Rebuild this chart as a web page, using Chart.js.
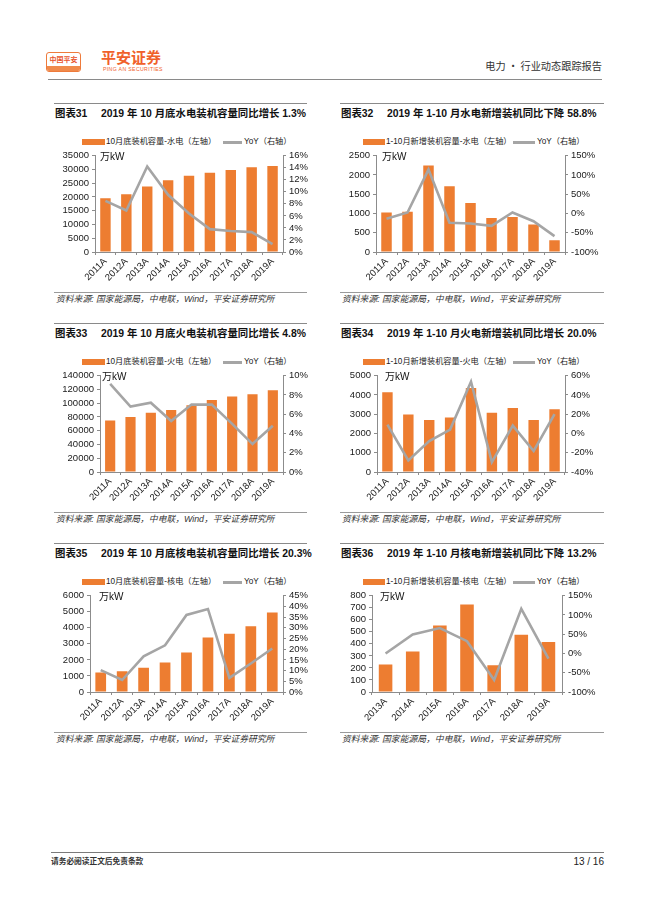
<!DOCTYPE html>
<html>
<head>
<meta charset="utf-8">
<script src="https://cdn.jsdelivr.net/npm/chart.js@4.4.1/dist/chart.umd.min.js"></script>
<style>
  body { margin: 0; width: 650px; height: 919px; position: relative; background: #fff; overflow: hidden;
         font-family: "Liberation Sans", "Noto Sans CJK SC", sans-serif; color: #222; }
  .abs { position: absolute; }
  .hline { position: absolute; height: 0; }
  .title { position: absolute; font-weight: bold; font-size: 10.4px; line-height: 13px; white-space: nowrap; color: #111; }
  .leg { position: absolute; font-size: 8.2px; line-height: 10px; white-space: nowrap; color: #222; }
  .src { position: absolute; font-size: 8.8px; font-style: italic; line-height: 11px; white-space: nowrap; color: #333; }
  .unit { position: absolute; font-size: 10px; line-height: 11px; white-space: nowrap; color: #111; }
  .box { position: absolute; }
</style>
</head>
<body>

<!-- header -->
<div class="abs" style="left:46px;top:52px;width:35px;height:20px;border:1px solid #ee7b3c;border-radius:3px;box-sizing:border-box;overflow:hidden;background:#fff;">
  <div style="color:#e8542b;font-weight:bold;font-size:7px;text-align:center;line-height:11px;margin-top:1px;font-family:'Noto Sans CJK SC';">中国平安</div>
  <div style="position:absolute;left:0;right:0;bottom:0;height:5px;background:#f08a4b;"></div>
</div>
<div class="abs" style="left:101px;top:48px;font-size:15px;line-height:18px;font-weight:bold;color:#f0602a;font-family:'Noto Sans CJK SC';">平安证券</div>
<div class="abs" style="left:103px;top:66px;font-size:5.2px;line-height:6px;color:#f0602a;letter-spacing:0.35px;white-space:nowrap;">PING AN SECURITIES</div>
<div class="abs" style="right:48px;top:60px;font-size:10.2px;line-height:12px;color:#333;white-space:nowrap;font-family:'Noto Sans CJK SC';">电力 · 行业动态跟踪报告</div>
<div class="hline" style="left:48px;width:554px;top:79px;border-top:1.3px solid #8a8a8a;"></div>

<!-- footer -->
<div class="hline" style="left:51px;width:553px;top:852px;border-top:1.3px solid #7a7a7a;"></div>
<div class="abs" style="left:51px;top:857px;font-size:7.7px;line-height:10px;color:#333;font-weight:bold;white-space:nowrap;">请务必阅读正文后免责条款</div>
<div class="abs" style="right:46px;top:856px;font-size:10px;line-height:12px;color:#222;white-space:nowrap;">13 / 16</div>

<div id="panels"></div>

<script>
// categories
const years9 = ["2011A", "2012A", "2013A", "2014A", "2015A", "2016A", "2017A", "2018A", "2019A"];
const years7 = ["2013A", "2014A", "2015A", "2016A", "2017A", "2018A", "2019A"];

// 10月底装机容量 (万kW) and YoY (%)
const hydroCap = [19500, 20950, 23800, 26100, 27700, 28800, 29800, 30800, 31300];
const hydroCapYoY = [8.5, 6.9, 14.2, 9.5, 6.4, 3.8, 3.5, 3.3, 1.3];
const thermalCap = [75000, 79800, 86000, 90300, 97000, 104600, 109900, 113200, 119000];
const thermalCapYoY = [9.15, 6.8, 7.2, 5.3, 7.0, 7.0, 5.0, 2.9, 4.8];
const nuclearCap = [1216, 1299, 1505, 1835, 2454, 3402, 3629, 4103, 4948];
const nuclearCapYoY = [10.2, 5.6, 16.7, 21.8, 36.0, 38.8, 6.6, 13.3, 20.3];

// 1-10月新增装机容量 (万kW) and YoY (%)
const hydroNew = [1027, 1044, 2248, 1709, 1271, 884, 909, 715, 303];
const hydroNewYoY = [-13.5, 2.5, 114, -24, -26, -32, 2.5, -20, -58.8];
const thermalNew = [4144, 2979, 2705, 2825, 4366, 3082, 3322, 2705, 3253];
const thermalNewYoY = [9.2, -28, -7.9, 4.1, 53.8, -29.8, 8.2, -18.2, 20.0];
const nuclearNew = [228, 336, 553, 727, 223, 475, 416];
const nuclearNewYoY = [0, 49.5, 66, 32, -69, 116, -13.2];

// axis ranges [min, max, step]
const ticks31 = [[0, 35000, 5000], [0, 16, 2]];
const ticks32 = [[0, 2500, 500], [-100, 150, 50]];
const ticks33 = [[0, 140000, 20000], [0, 10, 2]];
const ticks34 = [[0, 5000, 1000], [-40, 60, 20]];
const ticks35 = [[0, 6000, 1000], [0, 45, 5]];
const ticks36 = [[0, 800, 100], [-100, 150, 50]];

const BAR = "#ED7D31";
const LINE = "#A5A5A5";
const AXIS = "#8c8c8c";
const SOURCE = "资料来源: 国家能源局，中电联，Wind，平安证券研究所";

const charts = [
  { no: "图表31", title: "2019 年 10 月底水电装机容量同比增长 1.3%", legend: "10月底装机容量-水电（左轴）",
    labels: years9, bars: hydroCap, yoy: hydroCapYoY, ticks: ticks31, col: 0, row: 0, pl: 95, pr: 283, ux: 5 },
  { no: "图表32", title: "2019 年 1-10 月水电新增装机同比下降 58.8%", legend: "1-10月新增装机容量-水电（左轴）",
    labels: years9, bars: hydroNew, yoy: hydroNewYoY, ticks: ticks32, col: 1, row: 0, pl: 376, pr: 565, ux: 6 },
  { no: "图表33", title: "2019 年 10 月底火电装机容量同比增长 4.8%", legend: "10月底装机容量-火电（左轴）",
    labels: years9, bars: thermalCap, yoy: thermalCapYoY, ticks: ticks33, col: 0, row: 1, pl: 100, pr: 283, ux: 2 },
  { no: "图表34", title: "2019 年 1-10 月火电新增装机同比增长 20.0%", legend: "1-10月新增装机容量-火电（左轴）",
    labels: years9, bars: thermalNew, yoy: thermalNewYoY, ticks: ticks34, col: 1, row: 1, pl: 377, pr: 565, ux: 8 },
  { no: "图表35", title: "2019 年 10 月底核电装机容量同比增长 20.3%", legend: "10月底装机容量-核电（左轴）",
    labels: years9, bars: nuclearCap, yoy: nuclearCapYoY, ticks: ticks35, col: 0, row: 2, pl: 90, pr: 283, ux: 9 },
  { no: "图表36", title: "2019 年 1-10 月核电新增装机同比下降 13.2%", legend: "1-10月新增装机容量-核电（左轴）",
    labels: years7, bars: nuclearNew, yoy: nuclearNewYoY, ticks: ticks36, col: 1, row: 2, pl: 372, pr: 562, ux: 8 }
];

const cols = [
  { x0: 54, x1: 307, cl: 50, cr: 312, bar: 82, barW: 23, txt: 106, line: 223, lineW: 19, txt2: 244 },
  { x0: 340, x1: 604, cl: 336, cr: 602, bar: 363, barW: 22, txt: 386, line: 513, lineW: 22, txt2: 537 }
];

const root = document.getElementById("panels");
function add(html) { root.insertAdjacentHTML("beforeend", html); }

charts.forEach(function (c, i) {
  const col = cols[c.col];
  const dy = 220 * c.row;
  const plotTop = 153 + dy, plotBottom = 252 + dy;

  // panel frame and texts
  add('<div class="hline" style="left:' + col.x0 + 'px;width:' + (col.x1 - col.x0) + 'px;top:' + (103 + dy) + 'px;border-top:1.4px solid #8a8a8a;"></div>');
  add('<div class="title" style="left:' + (col.x0 + 1) + 'px;top:' + (107 + dy) + 'px;">' + c.no + '</div>');
  add('<div class="title" style="left:' + (col.x0 + 47) + 'px;top:' + (107 + dy) + 'px;">' + c.title + '</div>');
  add('<div class="abs" style="left:' + col.bar + 'px;top:' + (139 + dy) + 'px;width:' + col.barW + 'px;height:6px;background:' + BAR + ';"></div>');
  add('<div class="leg" style="left:' + col.txt + 'px;top:' + (137 + dy) + 'px;">' + c.legend + '</div>');
  add('<div class="abs" style="left:' + col.line + 'px;top:' + (141 + dy) + 'px;width:' + col.lineW + 'px;height:2.5px;background:' + LINE + ';"></div>');
  add('<div class="leg" style="left:' + col.txt2 + 'px;top:' + (137 + dy) + 'px;">YoY（右轴）</div>');
  add('<div class="hline" style="left:' + col.x0 + 'px;width:' + (col.x1 - col.x0) + 'px;top:' + (292 + dy) + 'px;border-top:1px solid #9a9a9a;"></div>');
  add('<div class="src" style="left:' + (col.x0 + 2) + 'px;top:' + (294 + dy) + 'px;">' + SOURCE + '</div>');

  // chart canvas
  const top = plotTop - 6;
  const h = (plotBottom - plotTop) + 6 + 36;
  add('<div class="box" style="left:' + col.cl + 'px;top:' + top + 'px;width:' + (col.cr - col.cl) + 'px;height:' + h + 'px;"><canvas id="cv' + i + '"></canvas></div>');
  add('<div class="unit" style="left:' + (c.pl + c.ux) + 'px;top:' + (plotTop - 2) + 'px;">万kW</div>');

  const leftW = c.pl - col.cl;
  const rightW = col.cr - c.pr;
  const tickFont = { family: "Liberation Sans", size: 9.5 };

  new Chart(document.getElementById("cv" + i).getContext("2d"), {
    type: "bar",
    data: {
      labels: c.labels,
      datasets: [
        {
          type: "line",
          data: c.yoy,
          yAxisID: "y1",
          borderColor: LINE,
          borderWidth: 2.6,
          pointRadius: 0,
          tension: 0,
          order: 0
        },
        {
          type: "bar",
          data: c.bars,
          yAxisID: "y",
          backgroundColor: BAR,
          categoryPercentage: 1,
          barPercentage: 0.5,
          order: 1
        }
      ]
    },
    options: {
      responsive: true,
      maintainAspectRatio: false,
      animation: false,
      layout: { padding: 0 },
      plugins: { legend: { display: false }, tooltip: { enabled: false } },
      scales: {
        x: {
          grid: { drawOnChartArea: false, drawTicks: true, tickLength: 3, color: AXIS },
          border: { display: true, color: AXIS, width: 1 },
          ticks: { color: "#1a1a1a", font: tickFont, minRotation: 45, maxRotation: 45, autoSkip: false, padding: 1 },
          afterFit: function (s) { s.height = 36; }
        },
        y: {
          position: "left",
          min: c.ticks[0][0], max: c.ticks[0][1],
          grid: { drawOnChartArea: false, drawTicks: true, tickLength: 3, color: AXIS },
          border: { display: true, color: AXIS, width: 1 },
          ticks: { stepSize: c.ticks[0][2], color: "#1a1a1a", font: tickFont, autoSkip: false, padding: 3,
                   callback: function (v) { return String(v); } },
          afterFit: function (s) { s.width = leftW; }
        },
        y1: {
          position: "right",
          min: c.ticks[1][0], max: c.ticks[1][1],
          grid: { drawOnChartArea: false, drawTicks: true, tickLength: 3, color: AXIS },
          border: { display: true, color: AXIS, width: 1 },
          ticks: { stepSize: c.ticks[1][2], color: "#1a1a1a", font: tickFont, autoSkip: false, padding: 3,
                   callback: function (v) { return v + "%"; } },
          afterFit: function (s) { s.width = rightW; }
        }
      }
    }
  });
});
</script>
</body>
</html>
